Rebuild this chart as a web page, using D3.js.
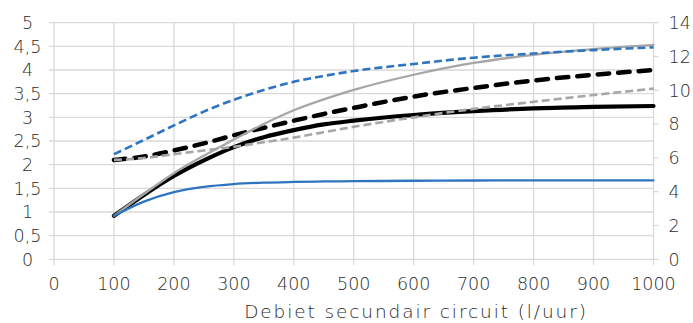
<!DOCTYPE html>
<html><head><meta charset="utf-8">
<script src="https://cdn.jsdelivr.net/npm/d3@7"></script>
<style>
html,body{margin:0;padding:0;background:#fff;}
svg{display:block;}
text{font-family:"DejaVu Sans",sans-serif;font-weight:200;fill:#2b2b2b;}
</style></head>
<body>
<svg id="chart" width="693" height="323"></svg>
<script>
const flow = [100,150,200,250,300,350,400,450,500,600,700,800,900,1000];
// left axis series
const blueSolid  = [0.92,1.22,1.42,1.53,1.59,1.62,1.635,1.645,1.65,1.66,1.665,1.67,1.67,1.67];
const blackSolid = [0.92,1.36,1.76,2.09,2.37,2.58,2.73,2.85,2.93,3.05,3.13,3.19,3.22,3.24];
const graySolid  = [0.92,1.38,1.82,2.19,2.53,2.86,3.15,3.38,3.58,3.90,4.15,4.32,4.44,4.53];
// right axis series
const blueDashed  = [6.22,7.06,7.92,8.74,9.44,10.02,10.5,10.85,11.14,11.56,11.93,12.18,12.38,12.54];
const blackDashed = [5.88,6.08,6.44,6.86,7.34,7.78,8.20,8.60,8.96,9.63,10.14,10.58,10.92,11.20];
const grayDashed  = [5.88,5.99,6.22,6.44,6.66,6.93,7.20,7.52,7.84,8.40,8.90,9.32,9.72,10.10];

const xTicks = [0,100,200,300,400,500,600,700,800,900,1000];
const yLeftTicks = [0,0.5,1,1.5,2,2.5,3,3.5,4,4.5,5];
const yRightTicks = [0,2,4,6,8,10,12,14];
const xTitle = "Debiet secundair circuit (l/uur)";

const svg = d3.select("#chart");
const L = 54, R = 653.5, T = 22.7, B = 259.3;
const x = d3.scaleLinear().domain([0,1000]).range([L,R]);
const yL = d3.scaleLinear().domain([0,5]).range([B,T]);
const yR = d3.scaleLinear().domain([0,14]).range([B,T]);
const fmt = d => String(d).replace(".", ",");
const grid = "#d9d9d9";

svg.append("g").selectAll("line").data(yLeftTicks).join("line")
  .attr("x1", L-5).attr("x2", R).attr("y1", d=>yL(d)).attr("y2", d=>yL(d))
  .attr("stroke", grid).attr("stroke-width", 1.3);
svg.append("g").selectAll("line").data(xTicks).join("line")
  .attr("x1", d=>x(d)).attr("x2", d=>x(d)).attr("y1", T).attr("y2", B+6)
  .attr("stroke", grid).attr("stroke-width", 1.3);
svg.append("g").selectAll("line").data(yRightTicks).join("line")
  .attr("x1", R).attr("x2", R+5).attr("y1", d=>yR(d)).attr("y2", d=>yR(d))
  .attr("stroke", grid).attr("stroke-width", 1.3);

svg.append("g").selectAll("text").data(yLeftTicks).join("text")
  .attr("x", 27.5).attr("y", d=>yL(d)).attr("dy","0.36em").attr("text-anchor","middle")
  .attr("font-size", 17.5).text(fmt);
svg.append("g").selectAll("text").data(yRightTicks).join("text")
  .attr("x", 668.5).attr("y", d=>yR(d)).attr("dy","0.36em").attr("text-anchor","start")
  .attr("font-size", 17.5).text(fmt);
svg.append("g").selectAll("text").data(xTicks).join("text")
  .attr("x", d=>x(d)).attr("y", 289.5).attr("text-anchor","middle")
  .attr("font-size", 17.5).text(fmt);
svg.append("text").attr("x", 416).attr("y", 318).attr("text-anchor","middle")
  .attr("font-size", 18.5).attr("letter-spacing", 1.9).text(xTitle);

const curve = d3.curveMonotoneX;
function draw(vals, scale, color, width, dash, cap){
  const line = d3.line().x((d,i)=>x(flow[i])).y(d=>scale(d)).curve(curve);
  svg.append("path").datum(vals).attr("d", line)
    .attr("fill","none").attr("stroke", color).attr("stroke-width", width)
    .attr("stroke-dasharray", dash).attr("stroke-linecap", cap||"butt")
    .attr("stroke-linejoin","round");
}
draw(blackSolid, yL, "#000000", 4.2, null, "round");
draw(blackDashed, yR, "#000000", 4.5, "11.5,9", "round");
draw(graySolid, yL, "#a6a6a6", 2.3, null, "round");
draw(grayDashed, yR, "#a6a6a6", 2.6, "8,4", "butt");
draw(blueSolid, yL, "#2e74c0", 2.3, null, "round");
draw(blueDashed, yR, "#2e74c0", 2.6, "8,4", "butt");
</script>
</body></html>
